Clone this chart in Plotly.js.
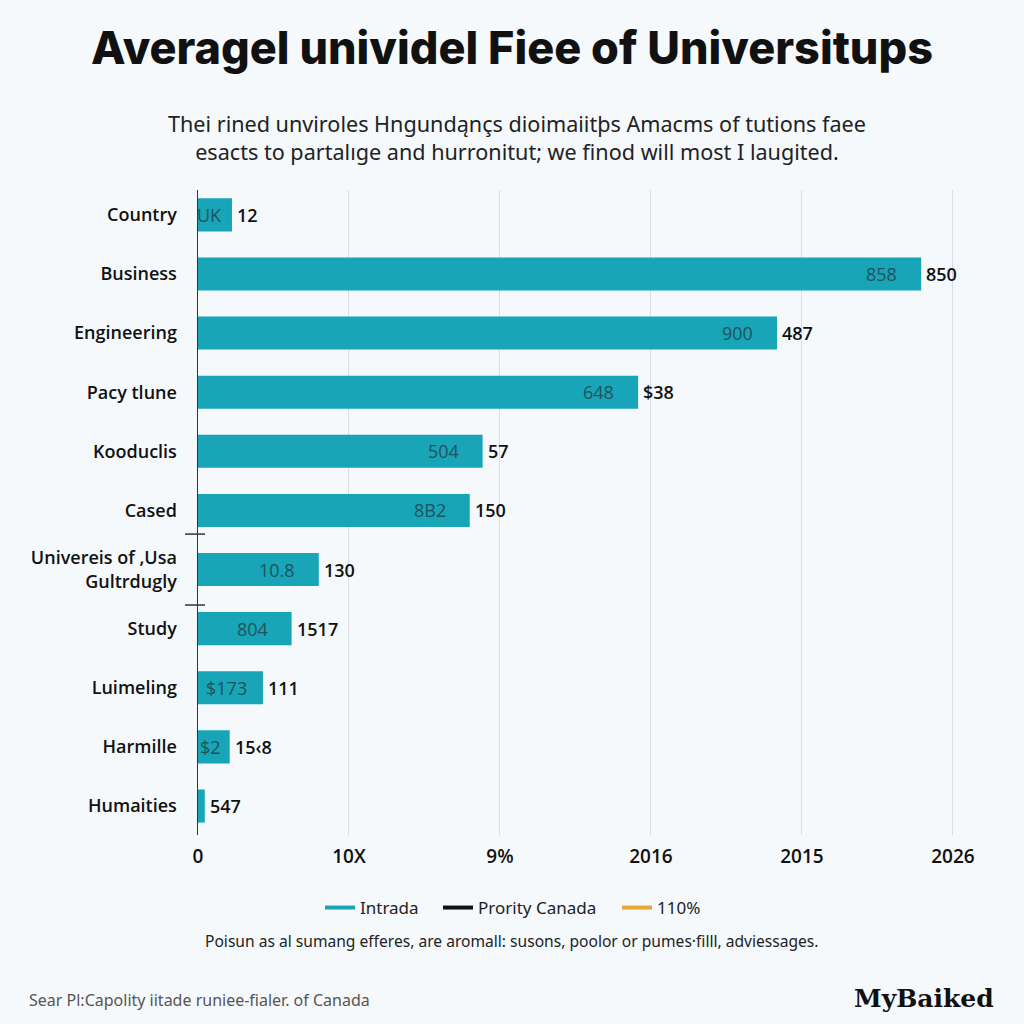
<!DOCTYPE html>
<html>
<head>
<meta charset="utf-8">
<script src="https://cdn.plot.ly/plotly-3.0.1.min.js"></script>
<style>
  html, body { margin: 0; padding: 0; background: #f5f9fc; }
  #chart { width: 1024px; height: 1024px; }
</style>
</head>
<body>
<div id="chart"></div>
<script>
// ---- data ----
const categories = ["Country", "Business", "Engineering", "Pacy tlune", "Kooduclis", "Cased",
  "Univereis of ,Usa<br>Gultrdugly", "Study", "Luimeling", "Harmille", "Humaities"];
const values = [45, 958, 767, 583, 377, 360, 160, 124, 86, 42, 9];
const insideLabels = ["UK", "858", "900", "648", "504", "8B2", "10.8", "804", "$173", "$2", ""];
const outsideLabels = ["12", "850", "487", "$38", "57", "150", "130", "1517", "111", "15\u20398", "547"];
const tickValues = [0, 200, 400, 600, 800, 1000];
const tickLabels = ["0", "10X", "9%", "2016", "2015", "2026"];
const legendNames = ["Intrada", "Prority Canada", "110%"];
const legendColors = ["#17a5b7", "#111111", "#e8a838"];

// ---- layout geometry ----
const W = 1024, H = 1024;
const mL = 198, mR = 56, mT = 190, mB = 189;
const plotW = W - mL - mR, plotH = H - mT - mB;
const xMax = 1020;
const px = X => (X - mL) / plotW;
const py = Y => (H - mB - Y) / plotH;

const barTrace = {
  type: "bar",
  orientation: "h",
  x: values,
  y: categories,
  marker: { color: "#17a5b7" },
  showlegend: false,
  hoverinfo: "x+y"
};

const legendIds = ["legend", "legend2", "legend3"];
const legendLeft = [320, 438, 617];
const legendTraces = legendNames.map((n, i) => ({
  type: "scatter",
  mode: "lines",
  x: [null], y: [null],
  name: n,
  legend: legendIds[i],
  line: { color: legendColors[i], width: 4 },
  hoverinfo: "skip"
}));

const annotations = [];
const pxPerUnit = plotW / xMax;
values.forEach((v, i) => {
  annotations.push({
    x: v, y: categories[i], xref: "x", yref: "y",
    text: outsideLabels[i], showarrow: false,
    xanchor: "left", xshift: 3,
    font: { family: "Open Sans, Noto Sans, sans-serif", size: 18, color: "#111", weight: 600 }
  });
  if (insideLabels[i]) {
    const barPx = v * pxPerUnit;
    const txtPx = insideLabels[i].length * 9.5;
    const pad = Math.max(2, Math.min(22, (barPx - txtPx) / 2));
    annotations.push({
      x: v, y: categories[i], xref: "x", yref: "y",
      text: insideLabels[i], showarrow: false,
      xanchor: "right", xshift: -pad,
      font: { family: "Open Sans, Noto Sans, sans-serif", size: 18, color: "#22525c", weight: 400 }
    });
  }
});

annotations.push({
  xref: "paper", yref: "paper", x: px(517), y: py(137),
  xanchor: "center", yanchor: "middle", showarrow: false, align: "center",
  text: "Thei rined unviroles Hngundąnçs dioimaiitþs Amacms of tutions faee<br>esacts to partalıge and hurronitut; we finod will most I laugited.",
  font: { family: "Noto Sans, sans-serif", size: 21.6, color: "#222" }
});
annotations.push({
  xref: "paper", yref: "paper", x: px(512), y: py(941),
  xanchor: "center", yanchor: "middle", showarrow: false,
  text: "Poisun as al sumang efferes, are aromall: susons, poolor or pumes·filll, adviessages.",
  font: { family: "Noto Sans, sans-serif", size: 15.6, color: "#222" }
});
annotations.push({
  xref: "paper", yref: "paper", x: px(27), y: py(1000),
  xanchor: "left", yanchor: "middle", showarrow: false,
  text: "Sear Pl:Capolity iitade runiee-fialer. of Canada",
  font: { family: "Noto Sans, sans-serif", size: 16, color: "#555" }
});
annotations.push({
  xref: "paper", yref: "paper", x: px(996), y: py(998),
  xanchor: "right", yanchor: "middle", showarrow: false,
  text: "MyBaiked",
  font: { family: "DejaVu Serif, serif", size: 25, color: "#111", weight: 700 }
});

const shapes = [5.4, 6.6].map(yv => ({
  type: "line", xref: "paper", yref: "y",
  x0: -13 / plotW, x1: 7 / plotW, y0: yv, y1: yv,
  line: { color: "#333", width: 1.5 }
}));

const legendStyle = (i) => ({
  orientation: "h",
  x: px(legendLeft[i]), xanchor: "left",
  y: py(908), yanchor: "middle",
  font: { family: "Noto Sans, sans-serif", size: 17, color: "#222" },
  itemwidth: 30,
  bgcolor: "rgba(0,0,0,0)"
});

const layout = {
  width: W, height: H,
  paper_bgcolor: "#f5f9fc",
  plot_bgcolor: "#f5f9fc",
  margin: { l: mL, r: mR, t: mT, b: mB },
  bargap: 0.44,
  title: {
    text: "Averagel unividel Fiee of Universitups",
    x: 0.5, xref: "container", xanchor: "center",
    y: 1 - 48 / H, yref: "container", yanchor: "middle",
    font: { family: "Inter, Liberation Sans, sans-serif", size: 45, color: "#111", weight: 800 }
  },
  xaxis: {
    range: [0, xMax],
    tickvals: tickValues,
    ticktext: tickLabels,
    showgrid: true, gridcolor: "#d9dee2", gridwidth: 1,
    zeroline: false, showline: false, ticks: "",
    ticklabelstandoff: 8,
    tickfont: { family: "Open Sans, Noto Sans, sans-serif", size: 19, color: "#111", weight: 600 }
  },
  yaxis: {
    type: "category",
    range: [10.49, -0.42],
    showgrid: false, zeroline: false,
    showline: true, linecolor: "#333", linewidth: 1.5,
    ticks: "", ticklabelstandoff: 16,
    tickfont: { family: "Open Sans, Noto Sans, sans-serif", size: 18, color: "#111", weight: 600 }
  },
  legend: legendStyle(0),
  legend2: legendStyle(1),
  legend3: legendStyle(2),
  annotations: annotations,
  shapes: shapes,
  showlegend: true
};

Plotly.newPlot("chart", [barTrace, ...legendTraces], layout, { displayModeBar: false, staticPlot: true });
</script>
</body>
</html>
